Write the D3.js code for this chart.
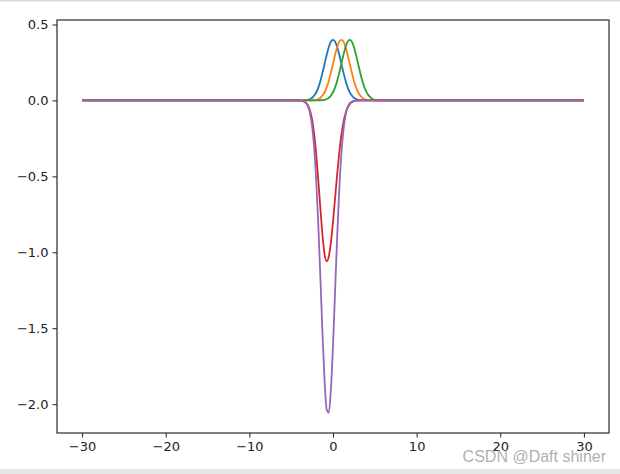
<!DOCTYPE html>
<html>
<head>
<meta charset="utf-8">
<script src="https://d3js.org/d3.v7.min.js"></script>
<style>
  body { margin: 0; background: #fff; }
  svg { display: block; font-family: "DejaVu Sans", sans-serif; }
</style>
</head>
<body>
<div class="chart"></div>
<script>
// sample positions shared by every curve
const xs = [-30, -10, -6, -5, -4.5, -4, -3.5, -3, -2.75, -2.5, -2.25, -2, -1.75, -1.5, -1.25, -1,
  -0.75, -0.5, -0.25, 0, 0.25, 0.5, 0.75, 1, 1.25, 1.5, 1.75, 2, 2.25, 2.5, 2.75, 3,
  3.5, 4, 4.5, 5, 5.5, 6, 7, 10, 30]

// values, one per xs entry
const blue = [0, 0, 0, 0, 0, 0, 0.001, 0.004, 0.009, 0.018, 0.032, 0.054, 0.086, 0.130, 0.183, 0.242,
  0.301, 0.352, 0.387, 0.399, 0.387, 0.352, 0.301, 0.242, 0.183, 0.130, 0.086, 0.054, 0.032, 0.018, 0.009, 0.004,
  0.001, 0, 0, 0, 0, 0, 0, 0, 0]
const orange = [0, 0, 0, 0, 0, 0, 0, 0, 0.0004, 0.001, 0.002, 0.004, 0.009, 0.018, 0.032, 0.054,
  0.086, 0.130, 0.183, 0.242, 0.301, 0.352, 0.387, 0.399, 0.387, 0.352, 0.301, 0.242, 0.183, 0.130, 0.086, 0.054,
  0.018, 0.004, 0.001, 0.0001, 0, 0, 0, 0, 0]
const green = [0, 0, 0, 0, 0, 0, 0, 0, 0, 0, 0, 0, 0.0004, 0.001, 0.002, 0.004,
  0.009, 0.018, 0.032, 0.054, 0.086, 0.130, 0.183, 0.242, 0.301, 0.352, 0.387, 0.399, 0.387, 0.352, 0.301, 0.242,
  0.130, 0.054, 0.018, 0.004, 0.001, 0.0001, 0, 0, 0]
const red = [0, 0, 0, 0, 0, -0.0007, -0.006, -0.032, -0.067, -0.127, -0.223, -0.360, -0.531, -0.718, -0.891, -1.015,
  -1.06, -1.027, -0.935, -0.800, -0.643, -0.485, -0.344, -0.229, -0.143, -0.084, -0.047, -0.024, -0.012, -0.005, -0.002, -0.001,
  0, 0, 0, 0, 0, 0, 0, 0, 0]
const purple = [0, 0, 0, 0, 0, -0.0007, -0.006, -0.038, -0.084, -0.170, -0.315, -0.534, -0.829, -1.181, -1.545, -1.853,
  -2.038, -2.056, -1.902, -1.614, -1.256, -0.896, -0.586, -0.352, -0.194, -0.098, -0.045, -0.019, -0.008, -0.003, -0.001, 0,
  0, 0, 0, 0, 0, 0, 0, 0, 0]

const xTicks = [-30, -20, -10, 0, 10, 20, 30]
const yTicks = [0.5, 0.0, -0.5, -1.0, -1.5, -2.0]

const series = [
  { vals: blue, color: '#1f77b4' },
  { vals: orange, color: '#ff7f0e' },
  { vals: green, color: '#2ca02c' },
  { vals: red, color: '#d62728' },
  { vals: purple, color: '#9467bd' }
]

const w = 620
const h = 474
const padL = 57, padR = 609, padT = 20, padB = 433

const svg = d3.select('.chart')
  .append('svg')
  .attr('width', w)
  .attr('height', h)

// screenshot edges
svg.append('rect').attr('x', 0).attr('y', 0).attr('width', w).attr('height', 1.5).attr('fill', '#d9d9d9')
svg.append('rect').attr('x', 0).attr('y', 469).attr('width', w).attr('height', 5).attr('fill', '#e6e6e6')

const xScale = d3.scaleLinear().domain([-33, 33]).range([padL, padR])
const yScale = d3.scaleLinear().domain([0.5296, -2.19]).range([padT, padB])

const line = d3.line()
  .x((d) => xScale(d[0]))
  .y((d) => yScale(d[1]))
  .curve(d3.curveMonotoneX)

svg.append('defs').append('clipPath').attr('id', 'clip')
  .append('rect').attr('x', padL).attr('y', padT).attr('width', padR - padL).attr('height', padB - padT)

svg.append('g')
  .attr('clip-path', 'url(#clip)')
  .selectAll('path')
  .data(series)
  .enter()
  .append('path')
  .attr('d', (s) => line(xs.map((x, i) => [x, s.vals[i]])))
  .attr('fill', 'none')
  .attr('stroke', (s) => s.color)
  .attr('stroke-width', 1.8)

const fmtX = (d) => String(d).replace('-', '\u2212')
const fmtY = (d) => d3.format('.1f')(d).replace('-', '\u2212')

const xAxis = d3.axisBottom(xScale)
  .tickValues(xTicks)
  .tickSize(4.5)
  .tickPadding(4.5)
  .tickFormat(fmtX)

const yAxis = d3.axisLeft(yScale)
  .tickValues(yTicks)
  .tickSize(4.5)
  .tickPadding(4)
  .tickFormat(fmtY)

const gx = svg.append('g')
  .attr('transform', 'translate(0,' + padB + ')')
  .call(xAxis)
const gy = svg.append('g')
  .attr('transform', 'translate(' + padL + ',0)')
  .call(yAxis)

for (const g of [gx, gy]) {
  g.select('.domain').remove()
  g.selectAll('.tick line').attr('stroke', '#222').attr('stroke-width', 1)
  g.selectAll('.tick text').attr('font-size', 13).attr('fill', '#222')
    .attr('font-family', '"DejaVu Sans", sans-serif')
}

// frame
svg.append('rect')
  .attr('x', padL).attr('y', padT)
  .attr('width', padR - padL).attr('height', padB - padT)
  .attr('fill', 'none')
  .attr('stroke', '#2a2a2a')
  .attr('stroke-width', 1.2)

// watermark
svg.append('text')
  .attr('x', 606)
  .attr('y', 462)
  .attr('text-anchor', 'end')
  .attr('font-size', 16)
  .attr('font-family', '"Liberation Sans", Arial, sans-serif')
  .attr('fill', '#a0a0a0')
  .attr('fill-opacity', 0.85)
  .text('CSDN @Daft shiner')
</script>
</body>
</html>
